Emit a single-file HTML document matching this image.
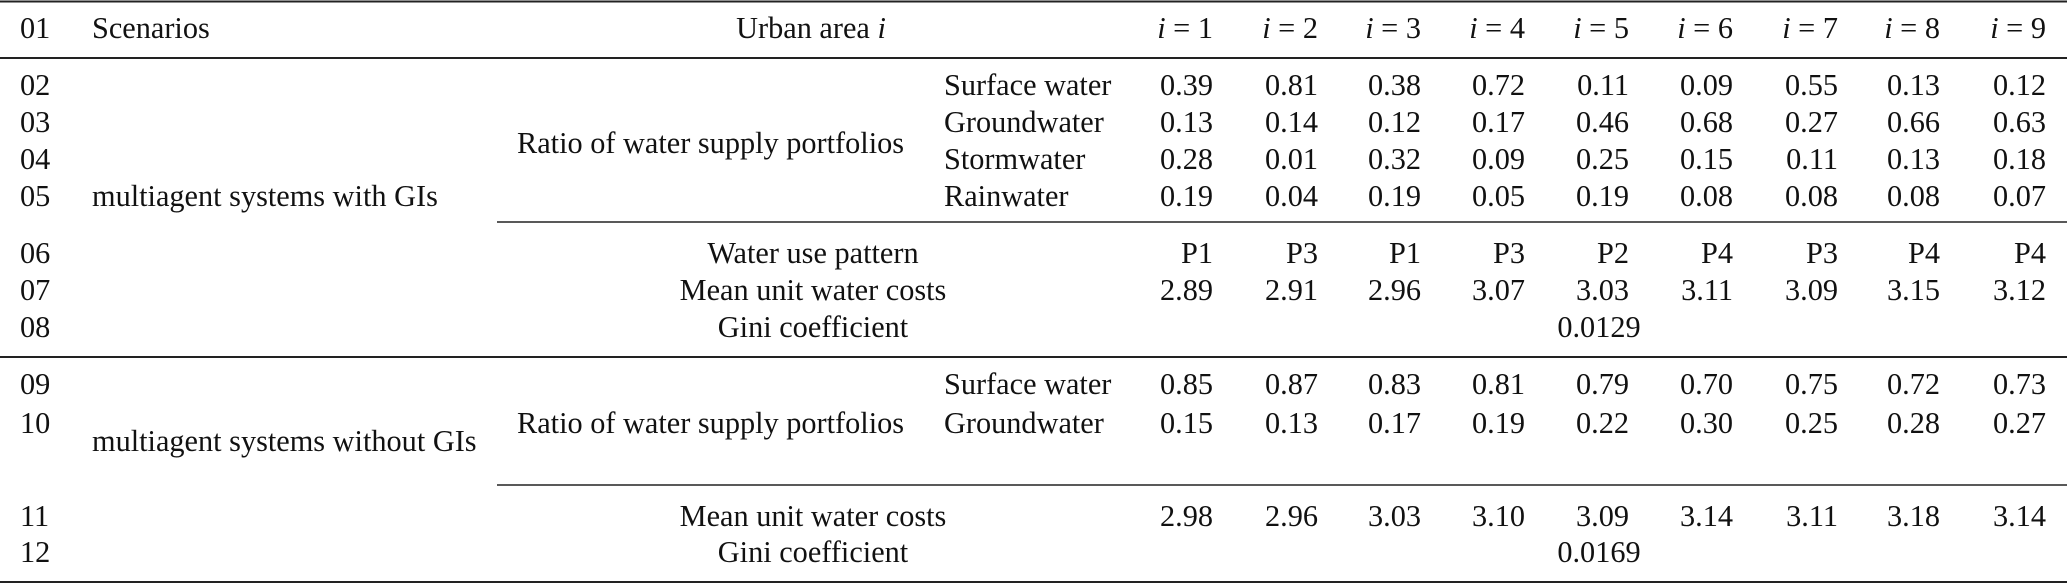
<!DOCTYPE html>
<html><head><meta charset="utf-8"><style>
html,body{margin:0;padding:0;background:#fff;}
svg{display:block;}
text{font-family:"Liberation Serif",serif;font-size:30.3px;fill:#111;}
</style></head><body>
<svg width="2067" height="584" viewBox="0 0 2067 584" xmlns="http://www.w3.org/2000/svg">
<g stroke="#222" stroke-width="2">
<line x1="0" y1="1.5" x2="2067" y2="1.5"/>
<line x1="0" y1="58" x2="2067" y2="58"/>
<line x1="497" y1="222" x2="2067" y2="222" stroke-width="1.6"/>
<line x1="0" y1="357" x2="2067" y2="357"/>
<line x1="497" y1="485" x2="2067" y2="485" stroke-width="1.6"/>
<line x1="0" y1="582" x2="2067" y2="582"/>
</g>
<g>
<text x="20" y="38">01</text>
<text x="92" y="38">Scenarios</text>
<text x="811" y="38" text-anchor="middle">Urban area <tspan font-style="italic">i</tspan></text>
</g>
<g text-anchor="end">
<text x="1213" y="38"><tspan font-style="italic">i</tspan> = 1</text>
<text x="1318" y="38"><tspan font-style="italic">i</tspan> = 2</text>
<text x="1421" y="38"><tspan font-style="italic">i</tspan> = 3</text>
<text x="1525" y="38"><tspan font-style="italic">i</tspan> = 4</text>
<text x="1629" y="38"><tspan font-style="italic">i</tspan> = 5</text>
<text x="1733" y="38"><tspan font-style="italic">i</tspan> = 6</text>
<text x="1838" y="38"><tspan font-style="italic">i</tspan> = 7</text>
<text x="1940" y="38"><tspan font-style="italic">i</tspan> = 8</text>
<text x="2046" y="38"><tspan font-style="italic">i</tspan> = 9</text>
</g>
<g>
<text x="20" y="95">02</text><text x="20" y="132">03</text><text x="20" y="169">04</text><text x="20" y="206">05</text>
<text x="20" y="263">06</text><text x="20" y="300">07</text><text x="20" y="337">08</text>
<text x="20" y="394">09</text><text x="20" y="433">10</text><text x="20" y="526">11</text><text x="20" y="562">12</text>
<text x="92" y="206">multiagent systems with GIs</text>
<text x="92" y="451">multiagent systems without GIs</text>
<text x="517" y="153">Ratio of water supply portfolios</text>
<text x="517" y="433">Ratio of water supply portfolios</text>
<text x="944" y="95">Surface water</text>
<text x="944" y="132">Groundwater</text>
<text x="944" y="169">Stormwater</text>
<text x="944" y="206">Rainwater</text>
<text x="944" y="394">Surface water</text>
<text x="944" y="433">Groundwater</text>
</g>
<g text-anchor="middle">
<text x="813" y="263">Water use pattern</text>
<text x="813" y="300">Mean unit water costs</text>
<text x="813" y="337">Gini coefficient</text>
<text x="813" y="526">Mean unit water costs</text>
<text x="813" y="562">Gini coefficient</text>
<text x="1599" y="337">0.0129</text>
<text x="1599" y="562">0.0169</text>
</g>
<g text-anchor="end">
<text y="95"><tspan x="1213">0.39</tspan><tspan x="1318">0.81</tspan><tspan x="1421">0.38</tspan><tspan x="1525">0.72</tspan><tspan x="1629">0.11</tspan><tspan x="1733">0.09</tspan><tspan x="1838">0.55</tspan><tspan x="1940">0.13</tspan><tspan x="2046">0.12</tspan></text>
<text y="132"><tspan x="1213">0.13</tspan><tspan x="1318">0.14</tspan><tspan x="1421">0.12</tspan><tspan x="1525">0.17</tspan><tspan x="1629">0.46</tspan><tspan x="1733">0.68</tspan><tspan x="1838">0.27</tspan><tspan x="1940">0.66</tspan><tspan x="2046">0.63</tspan></text>
<text y="169"><tspan x="1213">0.28</tspan><tspan x="1318">0.01</tspan><tspan x="1421">0.32</tspan><tspan x="1525">0.09</tspan><tspan x="1629">0.25</tspan><tspan x="1733">0.15</tspan><tspan x="1838">0.11</tspan><tspan x="1940">0.13</tspan><tspan x="2046">0.18</tspan></text>
<text y="206"><tspan x="1213">0.19</tspan><tspan x="1318">0.04</tspan><tspan x="1421">0.19</tspan><tspan x="1525">0.05</tspan><tspan x="1629">0.19</tspan><tspan x="1733">0.08</tspan><tspan x="1838">0.08</tspan><tspan x="1940">0.08</tspan><tspan x="2046">0.07</tspan></text>
<text y="263"><tspan x="1213">P1</tspan><tspan x="1318">P3</tspan><tspan x="1421">P1</tspan><tspan x="1525">P3</tspan><tspan x="1629">P2</tspan><tspan x="1733">P4</tspan><tspan x="1838">P3</tspan><tspan x="1940">P4</tspan><tspan x="2046">P4</tspan></text>
<text y="300"><tspan x="1213">2.89</tspan><tspan x="1318">2.91</tspan><tspan x="1421">2.96</tspan><tspan x="1525">3.07</tspan><tspan x="1629">3.03</tspan><tspan x="1733">3.11</tspan><tspan x="1838">3.09</tspan><tspan x="1940">3.15</tspan><tspan x="2046">3.12</tspan></text>
<text y="394"><tspan x="1213">0.85</tspan><tspan x="1318">0.87</tspan><tspan x="1421">0.83</tspan><tspan x="1525">0.81</tspan><tspan x="1629">0.79</tspan><tspan x="1733">0.70</tspan><tspan x="1838">0.75</tspan><tspan x="1940">0.72</tspan><tspan x="2046">0.73</tspan></text>
<text y="433"><tspan x="1213">0.15</tspan><tspan x="1318">0.13</tspan><tspan x="1421">0.17</tspan><tspan x="1525">0.19</tspan><tspan x="1629">0.22</tspan><tspan x="1733">0.30</tspan><tspan x="1838">0.25</tspan><tspan x="1940">0.28</tspan><tspan x="2046">0.27</tspan></text>
<text y="526"><tspan x="1213">2.98</tspan><tspan x="1318">2.96</tspan><tspan x="1421">3.03</tspan><tspan x="1525">3.10</tspan><tspan x="1629">3.09</tspan><tspan x="1733">3.14</tspan><tspan x="1838">3.11</tspan><tspan x="1940">3.18</tspan><tspan x="2046">3.14</tspan></text>
</g>
</svg>
</body></html>
